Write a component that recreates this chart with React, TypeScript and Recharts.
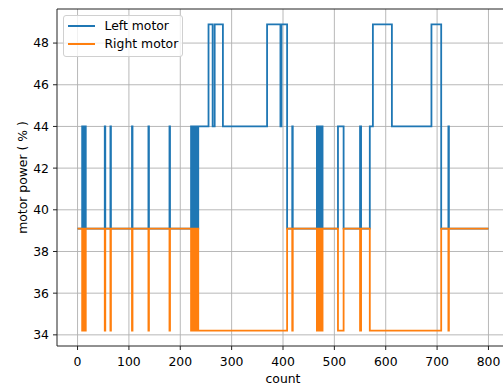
import React from 'react';
import { LineChart, Line, XAxis, YAxis, CartesianGrid, Legend, ReferenceLine } from 'recharts';

const leftCounts = [
  0, 9, 10, 11, 12, 13, 14, 15, 16, 53, 54, 64, 65, 106, 107, 138, 139, 179, 180,
  221, 222, 223, 224, 225, 226, 227, 228, 229, 230, 231, 232, 233, 234, 235,
  255, 263, 267, 283, 369, 395, 397, 408, 418, 419,
  466, 467, 468, 469, 470, 471, 472, 473, 474, 475, 476, 477,
  507, 518, 550, 552, 569, 575, 612, 689, 708, 722, 723, 800,
];
const leftPower = [
  39.1, 44, 39.1, 44, 39.1, 44, 39.1, 44, 39.1, 44, 39.1, 44, 39.1, 44, 39.1, 44, 39.1, 44, 39.1,
  44, 39.1, 44, 39.1, 44, 39.1, 44, 39.1, 44, 39.1, 44, 39.1, 44, 39.1, 44,
  48.9, 44, 48.9, 44, 48.9, 44, 48.9, 39.1, 44, 39.1,
  44, 39.1, 44, 39.1, 44, 39.1, 44, 39.1, 44, 39.1, 44, 39.1,
  44, 39.1, 44, 39.1, 44, 48.9, 44, 48.9, 39.1, 44, 39.1, 39.1,
];

const rightCounts = [
  0, 9, 10, 11, 12, 13, 14, 15, 16, 53, 54, 64, 65, 106, 107, 138, 139, 179, 180,
  221, 222, 223, 224, 225, 226, 227, 228, 229, 230, 231, 232, 233, 234, 235,
  408, 418, 419,
  466, 467, 468, 469, 470, 471, 472, 473, 474, 475, 476, 477,
  507, 518, 550, 552, 569, 708, 722, 723, 800,
];
const rightPower = [
  39.1, 34.2, 39.1, 34.2, 39.1, 34.2, 39.1, 34.2, 39.1, 34.2, 39.1, 34.2, 39.1, 34.2, 39.1, 34.2, 39.1, 34.2, 39.1,
  34.2, 39.1, 34.2, 39.1, 34.2, 39.1, 34.2, 39.1, 34.2, 39.1, 34.2, 39.1, 34.2, 39.1, 34.2,
  39.1, 34.2, 39.1,
  34.2, 39.1, 34.2, 39.1, 34.2, 39.1, 34.2, 39.1, 34.2, 39.1, 34.2, 39.1,
  34.2, 39.1, 34.2, 39.1, 34.2, 39.1, 34.2, 39.1, 39.1,
];

const seriesNames = ['Left motor', 'Right motor'];
const seriesColors = ['#1f77b4', '#ff7f0e'];
const xTicks = [0, 100, 200, 300, 400, 500, 600, 700, 800];
const yTicks = [34, 36, 38, 40, 42, 44, 46, 48];
const xDomain: [number, number] = [-40, 840];
const yDomain: [number, number] = [33.465, 49.635];
const xLabel = 'count';
const yLabel = 'motor power ( % )';

const leftData = leftCounts.map((c, i) => ({ count: c, power: leftPower[i] }));
const rightData = rightCounts.map((c, i) => ({ count: c, power: rightPower[i] }));

const FONT = 'DejaVu Sans, sans-serif';
const FS = 12.4;
const LW = 1.8;

const renderLegend = (props: any) => {
  const payload = props.payload || [];
  return (
    <div
      style={{
        width: 120,
        height: 42,
        boxSizing: 'border-box',
        border: '1px solid #d0d0d0',
        borderRadius: 3,
        background: 'rgba(255,255,255,0.8)',
        fontFamily: FONT,
        fontSize: FS,
        color: '#000',
        paddingTop: 1,
      }}
    >
      {payload.map((p: any, i: number) => (
        <div key={i} style={{ display: 'flex', alignItems: 'center', height: 18.3 }}>
          <div style={{ width: 27, height: 0, borderTop: `2px solid ${p.color}`, marginLeft: 3.5, marginRight: 10 }} />
          <span style={{ lineHeight: '14px', whiteSpace: 'nowrap' }}>{p.value}</span>
        </div>
      ))}
    </div>
  );
};

const YLabel = (props: any) => {
  const vb = props.viewBox || { x: 0, y: 0, width: 0, height: 0 };
  const cx = vb.x + 22;
  const cy = vb.y + vb.height / 2;
  return (
    <text
      x={cx}
      y={cy}
      transform={`rotate(-90 ${cx} ${cy})`}
      textAnchor="middle"
      dominantBaseline="central"
      fontFamily={FONT}
      fontSize={FS}
      fill="#000"
    >
      {yLabel}
    </text>
  );
};

export default function App() {
  return (
    <div
      style={{
        position: 'fixed',
        left: 0,
        top: 0,
        width: 503,
        height: 385,
        overflow: 'hidden',
        background: '#fff',
      }}
    >
      <LineChart width={530} height={385} margin={{ top: 9, right: 21, left: 0, bottom: 0 }}>
        <CartesianGrid stroke="#b0b0b0" strokeWidth={0.9} horizontalValues={yTicks} verticalValues={xTicks} />
        <XAxis
          dataKey="count"
          type="number"
          domain={xDomain}
          ticks={xTicks}
          allowDataOverflow
          height={39}
          tickSize={4}
          tickMargin={7}
          stroke="#222"
          tick={{ fill: '#000', fontSize: FS, fontFamily: FONT }}
          tickLine={{ stroke: '#222' }}
          label={{ value: xLabel, position: 'insideBottom', offset: 2, fill: '#000', fontSize: FS, fontFamily: FONT }}
        />
        <YAxis
          type="number"
          domain={yDomain}
          ticks={yTicks}
          allowDataOverflow
          width={57}
          tickSize={4}
          tickMargin={4}
          stroke="#222"
          tick={{ fill: '#000', fontSize: FS, fontFamily: FONT }}
          tickLine={{ stroke: '#222' }}
          label={<YLabel />}
        />
        <ReferenceLine y={yDomain[1]} stroke="#222" ifOverflow="visible" />
        <ReferenceLine x={xDomain[1]} stroke="#222" ifOverflow="visible" />
        <Line
          data={leftData}
          dataKey="power"
          name={seriesNames[0]}
          type="stepAfter"
          stroke={seriesColors[0]}
          strokeWidth={LW}
          dot={false}
          activeDot={false}
          isAnimationActive={false}
        />
        <Line
          data={rightData}
          dataKey="power"
          name={seriesNames[1]}
          type="stepAfter"
          stroke={seriesColors[1]}
          strokeWidth={LW}
          dot={false}
          activeDot={false}
          isAnimationActive={false}
        />
        <Legend
          layout="horizontal"
          verticalAlign="middle"
          align="center"
          content={renderLegend}
          wrapperStyle={{ left: 63, top: 15, width: 120, height: 42 }}
        />
      </LineChart>
    </div>
  );
}
